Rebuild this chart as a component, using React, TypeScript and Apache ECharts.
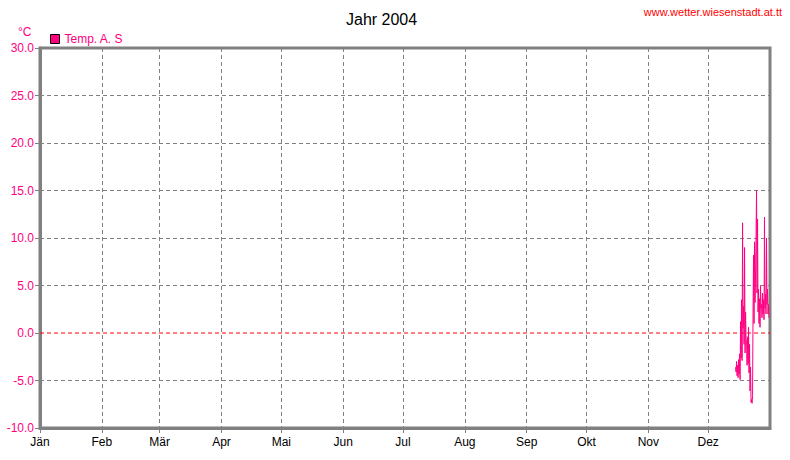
import React, { useEffect, useRef } from "react";
import * as echarts from "echarts";

// Month tick labels
const monthLabels = ["Jän", "Feb", "Mär", "Apr", "Mai", "Jun", "Jul", "Aug", "Sep", "Okt", "Nov", "Dez"];
// Y ticks
const yMin = -10;
const yMax = 30;
const yStep = 5;
const yGridValues = [-5, 5, 10, 15, 20, 25];
const zeroValue = 0;
// Series: sampling every 6 hours starting 2004-12-14 18:00
const seriesName = "Temp. A. S";
const sampleStartHour = [2004, 11, 14, 18];
const sampleStepHours = 6;
const temps = [
  -3.6, -4.1, -3.0, -4.5, -3.4, -4.7, -2.8, -4.3, -2.2, -4.9,
  1.2, -2.6, 3.5, -2.9, 11.6, 0.5, 2.8, -1.2, 9.0, -2.1,
  2.2, -0.6, -0.8, -3.4, -0.4, -3.2, 0.6, -4.2, -1.2, -6.1,
  -3.6, -7.3, -7.0, -7.4, -6.6, 2.1, 8.2, 1.0, 9.6, 3.2,
  6.0, 10.1, 15.0, 4.2, 12.0, 2.2, 4.6, 1.0, 3.6, 0.6,
  5.0, 2.6, 3.0, 1.6, 4.2, 2.0, 3.5, 1.4, 12.2, 2.6,
  4.1, 2.0, 10.0, 3.0, 4.6, 2.0, 3.0, 1.6,
];

const PINK = "#FF0080";
const GRAY = "#808080";
const RED = "#FF0000";
const FONT = "Liberation Sans, Arial, sans-serif";

export default function App() {
  const ref = useRef<HTMLDivElement>(null);
  useEffect(() => {
    if (!ref.current) return;
    const chart = echarts.init(ref.current, undefined, { renderer: "svg" });
    const start = new Date(sampleStartHour[0], sampleStartHour[1], sampleStartHour[2], sampleStartHour[3]).getTime();
    const data = temps.map((t, i) => [start + i * sampleStepHours * 3600000, t]);
    const DAY = 86400000;
    const xMin = new Date(2004, 0, 1).getTime();
    const xMax = new Date(2005, 0, 1).getTime();
    chart.setOption({
      animation: false,
      textStyle: { fontFamily: FONT },
      title: {
        text: "Jahr 2004",
        left: 341,
        top: 6,
        textStyle: { fontSize: 16, fontWeight: "normal", color: "#000", fontFamily: FONT },
      },
      legend: {
        left: 50,
        top: 33,
        padding: 0,
        itemWidth: 9,
        itemHeight: 9,
        itemGap: 5,
        icon: "rect",
        itemStyle: { color: PINK, borderColor: "#000", borderWidth: 1 },
        textStyle: { color: PINK, fontSize: 12, fontFamily: FONT },
        data: [seriesName],
      },
      graphic: [
        {
          type: "text",
          right: 8,
          top: 6,
          style: { text: "www.wetter.wiesenstadt.at.tt", fill: RED, fontSize: 11, fontFamily: FONT },
        },
        {
          type: "text",
          left: 18,
          top: 26,
          style: { text: "°C", fill: PINK, fontSize: 12, fontFamily: FONT },
        },
      ],
      grid: {
        left: 40,
        right: 20,
        top: 48,
        bottom: 32,
        show: true,
        borderColor: GRAY,
        borderWidth: 3,
        containLabel: false,
      },
      xAxis: {
        type: "time",
        min: xMin,
        max: xMax,
        minInterval: 28 * DAY,
        maxInterval: 31 * DAY,
        splitNumber: 12,
        axisLine: { onZero: false, lineStyle: { color: GRAY, width: 3 } },
        axisTick: { show: true, length: 5, lineStyle: { color: GRAY, width: 1 } },
        axisLabel: {
          color: "#000",
          fontSize: 12,
          margin: 8,
          showMaxLabel: false,
          fontFamily: FONT,
          formatter: (v: number) => monthLabels[new Date(v).getMonth()],
        },
        splitLine: { show: true, lineStyle: { color: GRAY, type: [4, 3], width: 1 } },
      },
      yAxis: {
        type: "value",
        min: yMin,
        max: yMax,
        interval: yStep,
        axisLine: { show: true, onZero: false, lineStyle: { color: GRAY, width: 3 } },
        axisTick: { show: true, length: 5, lineStyle: { color: GRAY, width: 1 } },
        axisLabel: {
          color: PINK,
          fontSize: 12,
          margin: 6,
          fontFamily: FONT,
          formatter: (v: number) => v.toFixed(1),
        },
        splitLine: { show: false },
      },
      series: [
        {
          name: "zero",
          type: "line",
          data: [[xMin, zeroValue], [xMax, zeroValue]],
          showSymbol: false,
          symbol: "none",
          silent: true,
          z: 3,
          itemStyle: { color: RED },
          lineStyle: { color: RED, type: [4, 3], width: 1 },
          markLine: {
            silent: true,
            symbol: "none",
            label: { show: false },
            lineStyle: { color: GRAY, type: [4, 3], width: 1 },
            data: yGridValues.map((v) => ({ yAxis: v })),
          },
        },
        {
          name: seriesName,
          type: "line",
          data,
          showSymbol: false,
          symbol: "none",
          z: 5,
          itemStyle: { color: PINK },
          lineStyle: { color: PINK, width: 1 },
        },
      ],
    });
    return () => chart.dispose();
  }, []);
  return <div ref={ref} style={{ width: 790, height: 460, position: "absolute", left: 0, top: 0 }} />;
}
